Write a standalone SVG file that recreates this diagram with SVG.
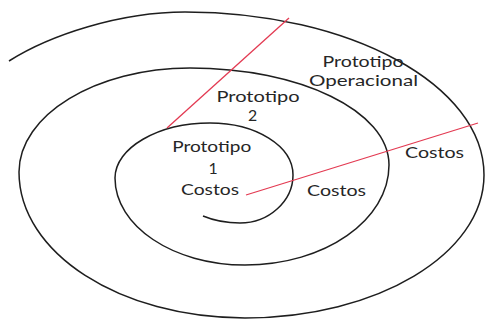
<svg xmlns="http://www.w3.org/2000/svg" width="486" height="320" viewBox="0 0 486 320">
<style>
.sp{fill:none;stroke:#1e1e1e;stroke-width:1.5}
.rl{stroke:#e33a52;stroke-width:1.3;fill:none}
.t{font-family:Lato,"Open Sans","DejaVu Sans",sans-serif;font-size:15.8px;fill:#262626;text-anchor:middle}
</style>
<rect width="486" height="320" fill="#fff"/>
<g id="spiral">
<path class="sp" d="M203,216 C215,221 228,223 240,223 C269,223 293,201 293,175 C293,146 256,123 210,123 C158,123 115,148 115,178 C115,226 173,265 245,265 C325,265 389,220 389,165 C389,111 300,68 190,68 C96,68 19,115 19,172 C19,253 120,318 245,318 C377,318 484,254 484,175 C484,85 350,12 185,12 C120,12 50,35 9,61"/>
</g>
<g id="connectors">
<line class="rl" x1="167" y1="128" x2="289" y2="18"/>
<line class="rl" x1="246" y1="195" x2="478" y2="123"/>
</g>
<g id="prototipo-operacional">
<text class="t" x="363" y="66.5" textLength="81" lengthAdjust="spacingAndGlyphs">Prototipo</text>
<text class="t" x="363.5" y="85.7" textLength="109" lengthAdjust="spacingAndGlyphs">Operacional</text>
</g>
<g id="prototipo-2">
<text class="t" x="258" y="102" textLength="83" lengthAdjust="spacingAndGlyphs">Prototipo</text>
<text class="t" x="252.5" y="121.2">2</text>
</g>
<g id="prototipo-1">
<text class="t" x="211.7" y="151.5" textLength="79" lengthAdjust="spacingAndGlyphs">Prototipo</text>
<text class="t" x="213" y="174">1</text>
<text class="t" x="210" y="195" textLength="58" lengthAdjust="spacingAndGlyphs">Costos</text>
</g>
<g id="costos-2">
<text class="t" x="336.5" y="196" textLength="59" lengthAdjust="spacingAndGlyphs">Costos</text>
</g>
<g id="costos-3">
<text class="t" x="434.5" y="158.3" textLength="59" lengthAdjust="spacingAndGlyphs">Costos</text>
</g>
</svg>
